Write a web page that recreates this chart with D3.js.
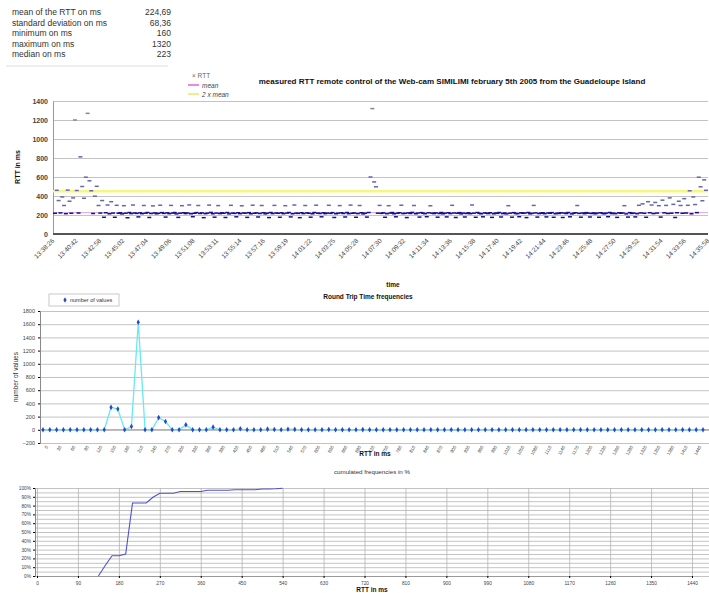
<!DOCTYPE html>
<html lang="en">
<head>
<meta charset="UTF-8">
<title>RTT Web-cam SIMILIMI</title>
<script src="https://d3js.org/d3.v7.min.js"></script>
<style>
  body { margin: 0; background: #fff; font-family: "Liberation Sans", Arial, sans-serif; }
  svg { display: block; }
  .grid line { stroke: #b4b4b4; stroke-width: 0.8px; }
  .grid path { display: none; }
  .tick text { fill: #444; }
  .stat { font-size: 8.5px; fill: #333; }
  .title { font-weight: bold; fill: #111; }
</style>
</head>
<body>
<svg id="chart" width="709" height="593"></svg>
<script>
// summary table
const statNames = ["mean of the RTT on ms", "standard deviation on ms", "minimum on ms", "maximum on ms", "median on ms"];
const statValues = ["224,69", "68,36", "160", "1320", "223"];

// chart 1 : measured RTT (one value per sample, in ms)
const rtt = [
  218, 460, 352, 222, 390, 300, 214, 462, 345, 219, 380, 1200, 458, 221, 812, 500, 376, 598, 1270, 560, 455, 216, 398, 502, 300, 220, 352, 176, 224, 305,
  213, 340, 220, 176, 302, 218, 224, 212, 298, 219, 171, 226, 215, 305, 221, 217, 180, 223, 214, 300, 219, 226, 174, 216, 296, 222, 213, 218, 303, 225,
  217, 178, 223, 214, 301, 220, 226, 212, 175, 219, 298, 224, 215, 221, 306, 213, 182, 218, 225, 300, 216, 222, 172, 214, 219, 304, 227, 213, 177, 220,
  299, 215, 223, 218, 174, 226, 212, 302, 220, 217, 181, 224, 214, 297, 221, 219, 175, 225, 213, 303, 218, 222, 179, 216, 300, 224, 212, 219, 173, 226,
  215, 301, 221, 218, 176, 223, 214, 298, 220, 226, 180, 213, 305, 219, 217, 172, 224, 215, 300, 222, 218, 177, 213, 226, 303, 219, 216, 181, 223, 214,
  220, 302, 217, 225, 174, 213, 219, 299, 223, 216, 179, 226, 214, 304, 218, 221, 176, 215, 300, 224, 212, 219, 178, 226, 600, 1320, 548, 497, 219, 301,
  217, 223, 176, 214, 298, 220, 226, 213, 181, 219, 224, 303, 215, 218, 173, 222, 216, 227, 300, 213, 220, 178, 225, 218, 214, 182, 223, 297, 219, 215,
  222, 177, 216, 226, 213, 219, 180, 224, 215, 302, 221, 174, 218, 225, 212, 220, 179, 216, 223, 214, 305, 219, 176, 226, 217, 213, 181, 222, 218, 215,
  224, 175, 213, 220, 217, 226, 179, 215, 221, 212, 298, 219, 177, 225, 216, 214, 182, 223, 218, 220, 173, 226, 213, 217, 301, 222, 178, 215, 219, 224,
  214, 180, 221, 218, 225, 176, 213, 219, 216, 223, 174, 220, 215, 226, 181, 212, 218, 224, 300, 217, 177, 221, 214, 225, 219, 179, 216, 222, 213, 220,
  176, 224, 217, 213, 220, 182, 226, 215, 219, 214, 175, 223, 218, 221, 298, 212, 178, 225, 216, 220, 180, 214, 302, 222, 317, 218, 176, 340, 224, 305,
  215, 332, 220, 298, 178, 356, 223, 301, 216, 380, 219, 312, 174, 224, 345, 300, 218, 372, 221, 302, 455, 213, 390, 310, 225, 598, 497, 350, 570, 460
];
const meanRtt = 224.69;
const timeLabels = [
  "13:38:26", "13:40:42", "13:42:58", "13:45:02", "13:47:04", "13:49:06", "13:51:08", "13:53:11", "13:55:14", "13:57:16",
  "13:59:19", "14:01:22", "14:03:25", "14:05:28", "14:07:30", "14:09:32", "14:11:34", "14:13:36", "14:15:38", "14:17:40",
  "14:19:42", "14:21:44", "14:23:46", "14:25:48", "14:27:50", "14:29:52", "14:31:54", "14:33:56", "14:35:58"
];
const rttTicks = [0, 200, 400, 600, 800, 1000, 1200, 1400];

// chart 2 : frequencies, 15 ms classes
const binStarts = [
  0, 15, 30, 45, 60, 75, 90, 105, 120, 135, 150, 165, 180, 195, 210, 225, 240, 255, 270, 285,
  300, 315, 330, 345, 360, 375, 390, 405, 420, 435, 450, 465, 480, 495, 510, 525, 540, 555, 570, 585,
  600, 615, 630, 645, 660, 675, 690, 705, 720, 735, 750, 765, 780, 795, 810, 825, 840, 855, 870, 885,
  900, 915, 930, 945, 960, 975, 990, 1005, 1020, 1035, 1050, 1065, 1080, 1095, 1110, 1125, 1140, 1155, 1170, 1185,
  1200, 1215, 1230, 1245, 1260, 1275, 1290, 1305, 1320, 1335, 1350, 1365, 1380, 1395, 1410, 1425, 1440, 1455
];
const binCounts = [
  0, 0, 0, 0, 0, 0, 0, 0, 0, 0, 340, 315, 0, 50, 1630, 0, 0, 185, 125, 0,
  0, 75, 0, 0, 0, 40, 0, 0, 0, 15, 0, 0, 0, 10, 5, 0, 8, 6, 0, 0,
  0, 0, 4, 0, 0, 0, 0, 3, 0, 0, 0, 0, 0, 0, 0, 2, 0, 0, 0, 0,
  0, 0, 0, 0, 0, 0, 0, 0, 0, 0, 0, 0, 0, 0, 0, 0, 0, 0, 0, 0,
  0, 0, 0, 0, 2, 0, 0, 0, 1, 0, 0, 0, 0, 0, 0, 0, 0, 0
];
const countTicks = [-200, 0, 200, 400, 600, 800, 1000, 1200, 1400, 1600, 1800];

// chart 3 : cumulated frequencies in %
const cumMs = [135, 150, 165, 180, 195, 210, 225, 240, 255, 270, 285, 300, 315, 330, 345, 360, 375, 390, 405, 420, 435, 450, 465, 480, 495, 510, 525, 540];
const cumPct = [0, 12, 23, 23, 25, 83, 83, 83, 89.5, 94, 94, 94, 96, 96, 96, 96, 97.4, 97.4, 97.4, 97.4, 98, 98, 98, 98, 98.8, 98.8, 99.2, 99.8];
const cumXTicks = [0, 90, 180, 270, 360, 450, 540, 630, 720, 810, 900, 990, 1080, 1170, 1260, 1350, 1440];
const cumYTicks = [0, 10, 20, 30, 40, 50, 60, 70, 80, 90, 100];

const svg = d3.select("#chart");
svg.append("rect").attr("width", 709).attr("height", 593).attr("fill", "#fff");
const plain = d3.format("d");

// ---- summary table
const stats = svg.append("g");
statNames.forEach((n, i) => {
    stats.append("text").attr("class", "stat").attr("x", 12).attr("y", 15 + i * 10.5).text(n);
    stats.append("text").attr("class", "stat").attr("x", 171).attr("y", 15 + i * 10.5)
        .attr("text-anchor", "end").text(statValues[i]);
});
svg.append("line").attr("x1", 6).attr("x2", 168).attr("y1", 66).attr("y2", 66)
    .attr("stroke", "#ddd").attr("stroke-width", 1);

// ---- chart 1
const x1 = d3.scaleLinear().domain([0, rtt.length - 1]).range([55, 706]);
const y1 = d3.scaleLinear().domain([0, 1400]).range([234, 101]);
const t1 = d3.scalePoint().domain(timeLabels).range([50, 705]);

svg.append("g").attr("class", "grid")
    .attr("transform", "translate(53,0)")
    .call(d3.axisLeft(y1).tickValues(rttTicks).tickSize(-655).tickFormat(""));
svg.append("g")
    .attr("transform", "translate(53,0)")
    .call(d3.axisLeft(y1).tickValues(rttTicks).tickSize(0).tickPadding(5).tickFormat(plain))
    .call(g => g.select(".domain").attr("stroke", "#999"))
    .selectAll("text").attr("font-size", 7).attr("font-weight", "bold").attr("fill", "#333");

// mean and 2 x mean
svg.append("line").attr("x1", 53).attr("x2", 708).attr("y1", y1(meanRtt)).attr("y2", y1(meanRtt))
    .attr("stroke", "#c050d0").attr("stroke-width", 1).attr("opacity", 0.5);
svg.append("line").attr("x1", 53).attr("x2", 708).attr("y1", y1(2 * meanRtt)).attr("y2", y1(2 * meanRtt))
    .attr("stroke", "#f6f684").attr("stroke-width", 2.6);

svg.append("g").selectAll("line").data(rtt).join("line")
    .attr("x1", (d, i) => x1(i) - 2).attr("x2", (d, i) => x1(i) + 2)
    .attr("y1", d => y1(d)).attr("y2", d => y1(d))
    .attr("stroke", d => d > 260 && d < 1000 ? "#6464b0" : (d >= 1000 ? "#888" : "#121288"))
    .attr("stroke-width", 1.5);

svg.append("g")
    .attr("transform", "translate(0,234)")
    .call(d3.axisBottom(t1).tickSize(0).tickPadding(4))
    .call(g => g.select(".domain").remove())
    .selectAll("text")
    .attr("font-size", 6.5).attr("fill", "#555")
    .attr("text-anchor", "end")
    .attr("transform", "rotate(-45)")
    .attr("dx", "-2").attr("dy", "4");
svg.append("line").attr("x1", 53).attr("x2", 708).attr("y1", 234).attr("y2", 234)
    .attr("stroke", "#555").attr("stroke-width", 2);

svg.append("text").attr("class", "title").attr("x", 452).attr("y", 84)
    .attr("text-anchor", "middle").attr("font-size", 8)
    .text("measured RTT remote control of the Web-cam SIMILIMI february 5th 2005 from the Guadeloupe Island");
svg.append("text").attr("class", "title").attr("font-size", 7)
    .attr("transform", "translate(20,167) rotate(-90)").attr("text-anchor", "middle").text("RTT in ms");
svg.append("text").attr("class", "title").attr("font-size", 6.5).attr("x", 393).attr("y", 287)
    .attr("text-anchor", "middle").text("time");

// legend chart 1
const lg1 = svg.append("g").attr("font-size", 6.5).attr("fill", "#444");
lg1.append("text").attr("x", 192).attr("y", 77.5).text("× RTT").attr("fill", "#666");
lg1.append("line").attr("x1", 188).attr("x2", 199).attr("y1", 85).attr("y2", 85).attr("stroke", "#e060e0").attr("stroke-width", 1.5);
lg1.append("text").attr("x", 202).attr("y", 87.5).text("mean").attr("font-style", "italic");
lg1.append("line").attr("x1", 188).attr("x2", 199).attr("y1", 94).attr("y2", 94).attr("stroke", "#eaea60").attr("stroke-width", 1.5);
lg1.append("text").attr("x", 202).attr("y", 96.5).text("2 x mean").attr("font-style", "italic");

// ---- chart 2
const x2 = d3.scalePoint().domain(binStarts).range([43, 703]);
const y2 = d3.scaleLinear().domain([-200, 1800]).range([443, 311]);

svg.append("g").attr("class", "grid")
    .attr("transform", "translate(40,0)")
    .call(d3.axisLeft(y2).tickValues(countTicks).tickSize(-669).tickFormat(""));
svg.append("g")
    .attr("transform", "translate(40,0)")
    .call(d3.axisLeft(y2).tickValues(countTicks).tickSize(2).tickPadding(3).tickFormat(plain))
    .call(g => g.select(".domain").attr("stroke", "#888"))
    .selectAll("text").attr("font-size", 5.5).attr("fill", "#444");
svg.append("line").attr("x1", 40).attr("x2", 709).attr("y1", y2(0)).attr("y2", y2(0))
    .attr("stroke", "#999").attr("stroke-width", 1);

svg.append("path").datum(binCounts)
    .attr("fill", "none").attr("stroke", "#66eaf4").attr("stroke-width", 1.3)
    .attr("d", d3.line().x((d, i) => x2(binStarts[i])).y(d => y2(d)));
svg.append("g").selectAll("path").data(binCounts).join("path")
    .attr("d", d3.symbol(d3.symbolDiamond, 9))
    .attr("transform", (d, i) => `translate(${x2(binStarts[i])},${y2(d)})`)
    .attr("fill", "#2848c8");

svg.append("g")
    .attr("transform", "translate(0,443)")
    .call(d3.axisBottom(x2).tickValues(binStarts.filter((d, i) => i % 2 === 0)).tickSize(0).tickPadding(3))
    .call(g => g.select(".domain").remove())
    .selectAll("text")
    .attr("font-size", 4.5).attr("fill", "#999")
    .attr("text-anchor", "end")
    .attr("transform", "rotate(-60)")
    .attr("dx", "-1").attr("dy", "3");

svg.append("text").attr("class", "title").attr("x", 368).attr("y", 299)
    .attr("text-anchor", "middle").attr("font-size", 6.5).text("Round Trip Time frequencies");
svg.append("text").attr("fill", "#333").attr("font-size", 6.5)
    .attr("transform", "translate(18,377) rotate(-90)").attr("text-anchor", "middle").text("number of values");
svg.append("text").attr("class", "title").attr("x", 375).attr("y", 456)
    .attr("text-anchor", "middle").attr("font-size", 6.5).text("RTT in ms");

const lg2 = svg.append("g");
lg2.append("rect").attr("x", 49).attr("y", 294).attr("width", 70).attr("height", 12)
    .attr("fill", "#fff").attr("stroke", "#bbb").attr("stroke-width", 0.8);
lg2.append("path").attr("d", d3.symbol(d3.symbolDiamond, 9)).attr("transform", "translate(65,300)").attr("fill", "#2848c8");
lg2.append("text").attr("x", 70).attr("y", 302.2).attr("font-size", 5.5).attr("fill", "#333").text("number of values");

// ---- chart 3
const x3 = d3.scaleLinear().domain([0, 1440]).range([37, 692]);
const y3 = d3.scaleLinear().domain([0, 100]).range([576, 488]);

svg.append("g").attr("class", "grid")
    .attr("transform", "translate(35,0)")
    .call(d3.axisLeft(y3).ticks(20).tickSize(-674).tickFormat(""));
svg.append("g").attr("class", "grid")
    .attr("transform", "translate(0,576)")
    .call(d3.axisBottom(x3).tickValues(cumXTicks).tickSize(-88).tickFormat(""))
    .selectAll("line").attr("stroke", (d, i) => i % 3 === 0 && i > 0 ? "#777" : "#c8c8c8");
svg.append("g")
    .attr("transform", "translate(35,0)")
    .call(d3.axisLeft(y3).tickValues(cumYTicks).tickSize(2).tickPadding(2).tickFormat(d => d + "%"))
    .call(g => g.select(".domain").attr("stroke", "#888"))
    .selectAll("text").attr("font-size", 4.8).attr("fill", "#444");
svg.append("g")
    .attr("transform", "translate(0,576)")
    .call(d3.axisBottom(x3).tickValues(cumXTicks).tickSize(2).tickPadding(4).tickFormat(plain))
    .call(g => g.select(".domain").attr("stroke", "#999"))
    .selectAll("text").attr("font-size", 4.8).attr("fill", "#555");

svg.append("path").datum(cumPct)
    .attr("fill", "none").attr("stroke", "#5050cc").attr("stroke-width", 1.1)
    .attr("d", d3.line().x((d, i) => x3(cumMs[i])).y(d => y3(d)));

svg.append("text").attr("x", 372).attr("y", 474).attr("text-anchor", "middle")
    .attr("font-size", 6.2).attr("fill", "#333").text("cumulated frequencies in %");
svg.append("text").attr("class", "title").attr("x", 372).attr("y", 592)
    .attr("text-anchor", "middle").attr("font-size", 6.5).text("RTT in ms");
</script>
</body>
</html>
